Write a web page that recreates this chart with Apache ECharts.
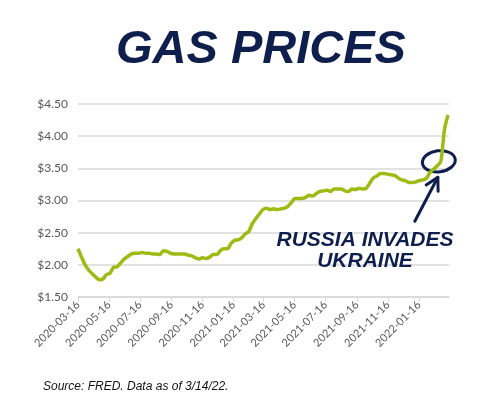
<!DOCTYPE html>
<html>
<head>
<meta charset="utf-8">
<script src="https://cdn.jsdelivr.net/npm/echarts@6/dist/echarts.min.js"></script>
<style>
  html, body { margin: 0; padding: 0; background: #ffffff; }
  #chart { width: 500px; height: 408px; }
</style>
</head>
<body>
<div id="chart"></div>
<script>
// ---- Data (weekly US regular gasoline price, FRED) ----
const firstWeek = '2020-03-16';
const gasPrices = [
  2.25, 2.12, 2.00, 1.92, 1.86, 1.81, 1.77, 1.78, 1.85, 1.87,
  1.96, 1.97, 2.03, 2.09, 2.13, 2.17, 2.18, 2.18, 2.19, 2.18,
  2.18, 2.17, 2.17, 2.16, 2.22, 2.21, 2.18, 2.17, 2.17, 2.17,
  2.17, 2.15, 2.14, 2.11, 2.09, 2.11, 2.10, 2.12, 2.16, 2.16,
  2.22, 2.25, 2.25, 2.33, 2.38, 2.39, 2.42, 2.48, 2.52, 2.64,
  2.72, 2.79, 2.86, 2.88, 2.86, 2.87, 2.86, 2.87, 2.88, 2.91,
  2.97, 3.03, 3.03, 3.03, 3.05, 3.08, 3.07, 3.11, 3.14, 3.15,
  3.16, 3.14, 3.18, 3.18, 3.18, 3.15, 3.14, 3.18, 3.17, 3.19,
  3.18, 3.19, 3.27, 3.35, 3.38, 3.42, 3.42, 3.41, 3.40, 3.39,
  3.35, 3.32, 3.31, 3.28, 3.28, 3.29, 3.31, 3.32, 3.35, 3.44,
  3.49, 3.54, 3.61, 4.10, 4.33
];
const axisStart = '2020-03-16';
const axisEnd = '2022-03-16';
const xTickLabels = [
  '2020-03-16', '2020-05-16', '2020-07-16', '2020-09-16', '2020-11-16',
  '2021-01-16', '2021-03-16', '2021-05-16', '2021-07-16', '2021-09-16',
  '2021-11-16', '2022-01-16'
];
const yMin = 1.5, yMax = 4.5, yStep = 0.5;
const titleText = 'GAS PRICES';
const noteLines = ['RUSSIA INVADES', 'UKRAINE'];
const noteDate = '2022-02-24';
const noteValue = 3.61;
const sourceText = 'Source: FRED. Data as of 3/14/22.';

// ---- helpers ----
function fmt(d) {
  const y = d.getUTCFullYear();
  const m = String(d.getUTCMonth() + 1).padStart(2, '0');
  const dd = String(d.getUTCDate()).padStart(2, '0');
  return y + '-' + m + '-' + dd;
}
function parse(s) { return new Date(s + 'T00:00:00Z'); }
const days = [];
for (let t = parse(axisStart).getTime(); t <= parse(axisEnd).getTime(); t += 86400000) {
  days.push(fmt(new Date(t)));
}
const seriesData = gasPrices.map((v, i) => {
  const d = new Date(parse(firstWeek).getTime() + i * 7 * 86400000);
  return [fmt(d), v];
});
const tickSet = new Set(xTickLabels);
const navy = '#0f1f4d';
const gray = '#595959';

const chart = echarts.init(document.getElementById('chart'));
const option = {
  animation: false,
  backgroundColor: '#ffffff',
  grid: { left: 78, right: 51, top: 104, bottom: 111 },
  xAxis: {
    type: 'category',
    data: days,
    boundaryGap: false,
    axisLine: { lineStyle: { color: '#d9d9d9', width: 1.5 } },
    axisTick: {
      show: true,
      interval: (i, v) => tickSet.has(v),
      length: 5,
      lineStyle: { color: '#d9d9d9', width: 1 }
    },
    axisLabel: {
      interval: (i, v) => tickSet.has(v),
      rotate: 45,
      color: gray,
      fontSize: 11,
      fontFamily: 'Lato',
      margin: 6
    },
    splitLine: { show: false }
  },
  yAxis: {
    type: 'value',
    min: yMin,
    max: yMax,
    interval: yStep,
    axisLine: { show: false },
    axisTick: { show: false },
    axisLabel: {
      color: gray,
      fontSize: 12,
      fontFamily: 'Lato',
      margin: 10,
      formatter: v => '$' + v.toFixed(2)
    },
    splitLine: { lineStyle: { color: '#d9d9d9', width: 1.5 } }
  },
  series: [{
    type: 'line',
    data: seriesData,
    showSymbol: false,
    smooth: 0.3,
    lineStyle: { color: '#9cbb13', width: 3.5 },
    itemStyle: { color: '#9cbb13' }
  }]
};
chart.setOption(option);

const c = chart.convertToPixel({ gridIndex: 0 }, [days.indexOf(noteDate), noteValue]);
const cx = c[0], cy = c[1];
const tip = [cx - 1, cy + 16];
const tail = [cx - 24, cy + 60];
const dx = tip[0] - tail[0], dy = tip[1] - tail[1];
const len = Math.hypot(dx, dy);
const ux = -dx / len, uy = -dy / len;
function rot(x, y, a) { return [x * Math.cos(a) - y * Math.sin(a), x * Math.sin(a) + y * Math.cos(a)]; }
const a1 = rot(ux, uy, 0.5), a2 = rot(ux, uy, -0.5);
const armLen = 14;

chart.setOption({
  graphic: [
    {
      type: 'text', x: 261, y: 50,
      style: {
        text: titleText, fill: navy, align: 'center', verticalAlign: 'middle',
        font: 'italic bold 47px "Liberation Sans", sans-serif'
      }
    },
    {
      type: 'ellipse',
      shape: { cx: 0, cy: 0, rx: 16.5, ry: 10.5 },
      x: cx, y: cy, rotation: 0.12,
      style: { fill: 'none', stroke: navy, lineWidth: 3 }
    },
    {
      type: 'polyline',
      shape: { points: [tail, tip] },
      style: { stroke: navy, lineWidth: 3, lineCap: 'round' }
    },
    {
      type: 'polyline',
      shape: { points: [
        [tip[0] + a1[0] * armLen, tip[1] + a1[1] * armLen],
        tip,
        [tip[0] + a2[0] * armLen, tip[1] + a2[1] * armLen]
      ] },
      style: { fill: 'none', stroke: navy, lineWidth: 3, lineCap: 'round', lineJoin: 'round' }
    },
    {
      type: 'text', x: 365, y: 240,
      style: {
        text: noteLines[0], fill: navy, align: 'center', verticalAlign: 'middle',
        font: 'italic bold 21px "Liberation Sans", sans-serif'
      }
    },
    {
      type: 'text', x: 365, y: 261,
      style: {
        text: noteLines[1], fill: navy, align: 'center', verticalAlign: 'middle',
        font: 'italic bold 21px "Liberation Sans", sans-serif'
      }
    },
    {
      type: 'text', x: 43, y: 387,
      style: {
        text: sourceText, fill: '#111111', verticalAlign: 'middle',
        font: 'italic 12px "Liberation Sans", sans-serif'
      }
    }
  ]
});
</script>
</body>
</html>
